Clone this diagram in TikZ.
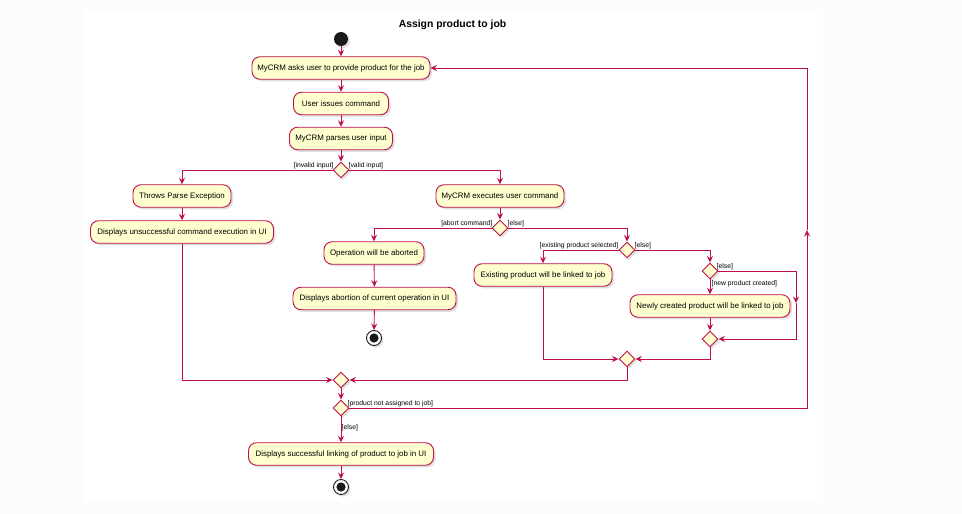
\documentclass[tikz,border=0pt]{standalone}
\usepackage{fontspec}
\setmainfont{Liberation Sans}
\usetikzlibrary{arrows.meta,shapes.geometric,shadows,calc}
\definecolor{umlline}{HTML}{BE0F4A}
\definecolor{umlfill}{HTML}{FEFECE}
\definecolor{pagebg}{HTML}{FCFCFC}
\tikzset{
  shd/.style={drop shadow={opacity=0.25,shadow xshift=2pt,shadow yshift=-2pt}},
  act/.style={draw=umlline,fill=umlfill,rounded corners=8pt,line width=0.9pt,
    minimum height=22.5pt,inner sep=0pt,font=\fontsize{7.9}{9}\selectfont,shd},
  dec/.style={diamond,draw=umlline,fill=umlfill,line width=0.9pt,minimum width=16pt,
    minimum height=16pt,inner sep=0pt,shd},
  startdot/.style={circle,fill=black!90,minimum size=14pt,inner sep=0pt,shd},
  enddot/.style={circle,draw=black!90,fill=white,line width=0.9pt,minimum size=15pt,inner sep=0pt,shd,
    path picture={\fill[black!90] (path picture bounding box.center) circle (4.6pt);}},
  arr/.style={draw=umlline,line width=0.9pt,-{Stealth[length=6.5pt,width=6pt,inset=2.2pt]}},
  ln/.style={draw=umlline,line width=0.9pt},
  lbl/.style={font=\fontsize{6.8}{8}\selectfont,inner sep=0.5pt}
}
\begin{document}
\begin{tikzpicture}[x=1pt,y=-1pt]
\useasboundingbox (0,0) rectangle (962,514);
\fill[pagebg] (0,0) rectangle (962,514);
\fill[white] (83,10) rectangle (823,502);

\node[font=\bfseries\fontsize{10.4}{12}\selectfont] (title) at (452.5,25) {Assign product to job};

\node[startdot] (start) at (341,39) {};
\node[act,minimum width=178pt] (a1) at (341,68) {MyCRM asks user to provide product for the job};
\node[act,minimum width=95pt] (a2) at (341,103.5) {User issues command};
\node[act,minimum width=103pt] (a3) at (341,138.5) {MyCRM parses user input};
\node[dec] (d1) at (341,170) {};
\node[act,minimum width=98pt] (a4) at (182,196) {Throws Parse Exception};
\node[act,minimum width=183pt] (a5) at (182,232) {Displays unsuccessful command execution in UI};
\node[act,minimum width=128pt] (a6) at (500,196) {MyCRM executes user command};
\node[dec] (d2) at (500,228) {};
\node[act,minimum width=100pt] (a7) at (374,253) {Operation will be aborted};
\node[act,minimum width=163pt] (a8) at (374.5,298.5) {Displays abortion of current operation in UI};
\node[enddot] (end1) at (374,338) {};
\node[dec] (d3) at (627,250) {};
\node[act,minimum width=138pt] (a9) at (543,275) {Existing product will be linked to job};
\node[dec] (d4) at (710,271) {};
\node[act,minimum width=160pt] (a10) at (710,306) {Newly created product will be linked to job};
\node[dec] (d5) at (710,339) {};
\node[dec] (d6) at (627,359) {};
\node[dec] (m2) at (341,380) {};
\node[dec] (d7) at (341,408) {};
\node[act,minimum width=185pt] (a11) at (341,454) {Displays successful linking of product to job in UI};
\node[enddot] (end2) at (341,487) {};

\coordinate (c1) at (796,271);
\coordinate (c1m) at (796,303);
\coordinate (c2) at (796,339);
\coordinate (r1) at (807,408);
\coordinate (r1m) at (807,230);
\coordinate (r2) at (807,68);

% labels
\node[lbl,anchor=east] (l1) at (334,166) {[invalid input]};
\node[lbl,anchor=west] (l2) at (348,166) {[valid input]};
\node[lbl,anchor=east] (l3) at (493,224) {[abort command]};
\node[lbl,anchor=west] (l4) at (507,224) {[else]};
\node[lbl,anchor=east] (l5) at (619,246) {[existing product selected]};
\node[lbl,anchor=west] (l6) at (634,246) {[else]};
\node[lbl,anchor=west] (l7) at (716,267) {[else]};
\node[lbl,anchor=west] (l8) at (711,284) {[new product created]};
\node[lbl,anchor=west] (l9) at (347,404) {[product not assigned to job]};
\node[lbl,anchor=west] (l10) at (341,428) {[else]};

% connectors
\draw[arr] (start) -- (a1);
\draw[arr] (a1) -- (a2);
\draw[arr] (a2) -- (a3);
\draw[arr] (a3) -- (d1);
\draw[arr] (d1.west) -| (a4.north);
\draw[arr] (d1.east) -| (a6.north);
\draw[arr] (a4) -- (a5);
\draw[arr] (a5.south) |- (m2.west);
\draw[arr] (a6) -- (d2);
\draw[arr] (d2.west) -| (a7.north);
\draw[arr] (d2.east) -| (d3.north);
\draw[arr] (a7) -- (a8);
\draw[arr] (a8) -- (end1);
\draw[arr] (d3.west) -| (a9.north);
\draw[arr] (d3.east) -| (d4.north);
\draw[arr] (d4.south) -- (a10.north);
\draw[arr] (d4.east) -- (c1) -- (c1m);
\draw[arr] (c1m) -- (c2) -- (d5.east);
\draw[arr] (a10) -- (d5);
\draw[arr] (d5.south) |- (d6.east);
\draw[arr] (a9.south) |- (d6.west);
\draw[arr] (d6.south) |- (m2.east);
\draw[arr] (m2) -- (d7);
\draw[arr] (d7.east) -- (r1) -- (r1m);
\draw[arr] (r1m) -- (r2) -- (a1.east);
\draw[arr] (d7) -- (a11);
\draw[arr] (a11) -- (end2);
\end{tikzpicture}
\end{document}
